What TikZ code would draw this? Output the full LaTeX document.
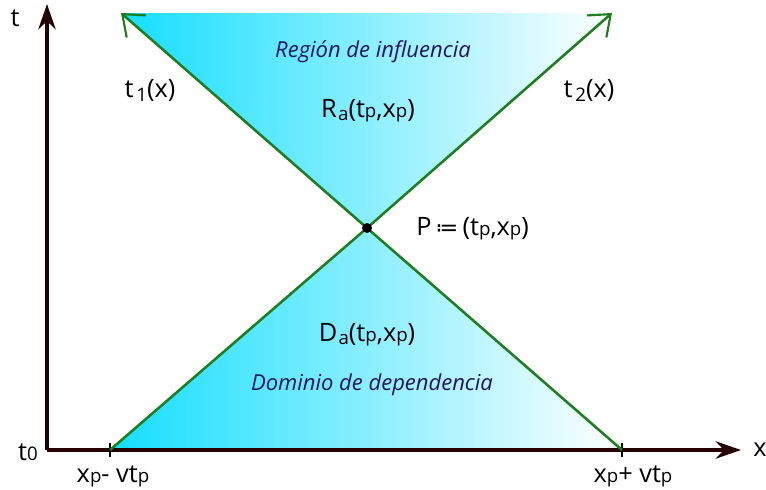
\documentclass[tikz,border=0pt]{standalone}
\usepackage{fontspec}
\setmainfont{Open Sans}
\newfontfamily\symbolfont{DejaVu Sans}
\usepackage{xcolor}
\usetikzlibrary{arrows.meta}

\definecolor{lightcyan}{RGB}{20,222,255}
\definecolor{conegreen}{RGB}{30,125,30}
\definecolor{labelblue}{RGB}{35,20,95}
\newcommand{\smallsub}[1]{{\fontsize{14}{14}\selectfont #1}}
\newcommand{\lowp}{\smallsub{p}}

\begin{document}
\begin{tikzpicture}[
    x=0.75pt, y=-0.75pt,
    axis/.style={draw=black!85!red, line width=2.4pt, -{Stealth[length=19pt, width=13pt]}},
    cone/.style={draw=conegreen, line width=1.9pt, -{Straight Barb[length=14pt, width=22pt, line width=1.6pt]}},
    region/.style={left color=lightcyan, middle color=lightcyan!38, right color=white},
    lbl/.style={font=\fontsize{19}{22}\selectfont, inner sep=0pt},
    regionname/.style={font=\fontsize{16.5}{20}\selectfont\itshape, text=labelblue, inner sep=0pt},
    tick/.style={draw=black, line width=1.2pt}
]
\useasboundingbox (0,0) rectangle (766,489);

\coordinate (P) at (367,228);
\coordinate (A) at (110,450);
\coordinate (B) at (622,450);
\coordinate (tipL) at (121,13);
\coordinate (tipR) at (612,13);
\coordinate (O) at (47,450);
\coordinate (xend) at (741,450);
\coordinate (tend) at (47,4);

\shade[region] (tipL) -- (tipR) -- (P) -- cycle;
\shade[region] (A) -- (B) -- (P) -- cycle;

\draw[axis] (O) -- (tend);
\draw[axis] (O) -- (xend);
\draw[tick] ([yshift=-5]A) -- ([yshift=5]A);
\draw[tick] ([yshift=-5]B) -- ([yshift=5]B);

\draw[cone] (A) -- (P) -- (tipR);
\draw[cone] (B) -- (P) -- (tipL);
\fill (P) circle (5);

\node[lbl] (tlabel) at (15,18) {t};
\node[lbl] (xlabel) at (760,450) {x};
\node[lbl] (t0) at (28,452) {t\smallsub{0}};
\node[lbl] (t1) at (150,90) {t\kern2pt\raisebox{-3pt}{\smallsub{1}}(x)};
\node[lbl] (t2) at (589,90) {t\kern2pt\raisebox{-3pt}{\smallsub{2}}(x)};
\node[regionname] (infl) at (373,52) {Región de influencia};
\node[lbl] (Ra) at (368,111) {R\kern1pt\raisebox{-2pt}{\smallsub{a}}(t\lowp,x\lowp)};
\node[lbl, anchor=west] (Plabel) at (416,229) {P\,{\symbolfont\fontsize{17}{20}\selectfont ≔}\,(t\lowp,x\lowp)};
\node[lbl] (Da) at (367,335) {D\kern1pt\raisebox{-2pt}{\smallsub{a}}(t\lowp,x\lowp)};
\node[regionname] (dep) at (372,385) {Dominio de dependencia};
\node[lbl] (xminus) at (113,476) {x\lowp- vt\lowp};
\node[lbl] (xplus) at (633,476) {x\lowp+ vt\lowp};
\end{tikzpicture}
\end{document}
